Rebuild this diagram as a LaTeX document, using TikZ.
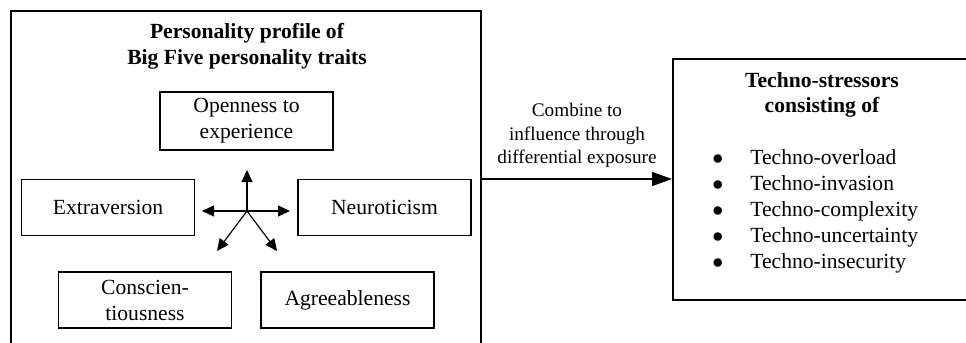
\documentclass[tikz,border=0pt]{standalone}
\usepackage{fontspec}
\setmainfont{Liberation Serif}
\usetikzlibrary{arrows.meta,positioning}

\begin{document}
\begin{tikzpicture}[x=0.5pt, y=-0.5pt, >={Triangle[length=6pt,width=5.5pt]},
    trait/.style={draw, rectangle, align=center, line width=0.7pt, minimum width=86.5pt, minimum height=28pt, font=\fontsize{10.8}{13}\selectfont},
    bigbox/.style={draw, rectangle, line width=1pt},
    boxtitle/.style={align=center, font=\bfseries\fontsize{10.8}{12.8}\selectfont}]
    \useasboundingbox (0,0) rectangle (966,343);

    % personality profile
    \node [bigbox, minimum width=235pt, minimum height=168pt] (prof) at (246,179) {};
    \node [boxtitle] (proftitle) at (247,46) {Personality profile of\\Big Five personality traits};
    \node [trait] (open) at (246.5,121) {Openness to\\experience};
    \node [trait] (extra) at (108,207.5) {Extraversion};
    \node [trait] (neuro) at (384.5,207.5) {Neuroticism};
    \node [trait] (consc) at (145,300) {Conscien-\\tiousness};
    \node [trait] (agree) at (347.5,300) {Agreeableness};

    \coordinate (hub) at (247,211);
    \coordinate (tipup) at (247,170);
    \coordinate (tipleft) at (202,211);
    \coordinate (tipright) at (290,211);
    \coordinate (tipdl) at (217,251);
    \coordinate (tipdr) at (277,251);
    \draw [->, line width=0.6pt] (hub) -- (tipup);
    \draw [->, line width=0.6pt] (hub) -- (tipleft);
    \draw [->, line width=0.6pt] (hub) -- (tipright);
    \draw [->, line width=0.6pt] (hub) -- (tipdl);
    \draw [->, line width=0.6pt] (hub) -- (tipdr);

    % techno-stressors
    \node [bigbox, minimum width=148pt, minimum height=120.5pt] (stress) at (821,179) {};
    \node [boxtitle] (stresstitle) at (822,95) {Techno-stressors\\consisting of};
    \node [anchor=west, inner sep=0pt, align=left, font=\fontsize{10.8}{13}\selectfont] (items) at (712,211.5)
        {\makebox[19pt][l]{$\bullet$}Techno-overload\\
         \makebox[19pt][l]{$\bullet$}Techno-invasion\\
         \makebox[19pt][l]{$\bullet$}Techno-complexity\\
         \makebox[19pt][l]{$\bullet$}Techno-uncertainty\\
         \makebox[19pt][l]{$\bullet$}Techno-insecurity};

    \draw [->, >={Triangle[length=10pt,width=7pt]}, line width=0.7pt] (prof.east) -- node[above=2pt, align=center, font=\fontsize{9.6}{11.75}\selectfont] (flow) {Combine to\\influence through\\differential exposure} (stress.west);
\end{tikzpicture}
\end{document}
